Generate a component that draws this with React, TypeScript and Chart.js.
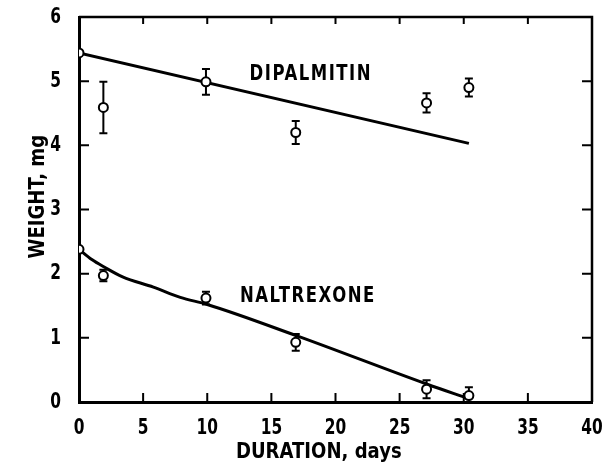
import React, { useEffect, useRef } from "react";
import { Chart, registerables } from "chart.js";

Chart.register(...registerables);

// ---- data ----
const dipDays = [0, 1.9, 9.9, 16.9, 27.1, 30.4];
const dipWeight = [5.44, 4.59, 4.99, 4.2, 4.66, 4.9];
const dipErr = [0, 0.4, 0.2, 0.18, 0.15, 0.14];

const dipFitDays = [0, 30.4];
const dipFitWeight = [5.44, 4.03];

const nalDays = [0, 1.9, 9.9, 16.9, 27.1, 30.4];
const nalWeight = [2.38, 1.97, 1.62, 0.93, 0.2, 0.1];
const nalErr = [0, 0.09, 0.1, 0.13, 0.14, 0.13];

const nalFitDays = [0, 1, 2, 3.4, 5.8, 7.9, 10, 17, 27.1, 30.4];
const nalFitWeight = [2.38, 2.22, 2.1, 1.95, 1.79, 1.63, 1.52, 1.03, 0.28, 0.05];

const xTicks = [0, 5, 10, 15, 20, 25, 30, 35, 40];
const yTicks = [0, 1, 2, 3, 4, 5, 6];

const seriesLabels = ["DIPALMITIN", "NALTREXONE"];
const xTitle = "DURATION, days";
const yTitle = "WEIGHT, mg";

const FONT = '"DejaVu Sans", sans-serif';

const pts = (xs: number[], ys: number[]) => xs.map((x, i) => ({ x, y: ys[i] }));

// draws horizontally condensed text (the reference uses a narrow typeface)
function condText(
  ctx: CanvasRenderingContext2D,
  text: string,
  x: number,
  y: number,
  align: "left" | "center" | "right",
  sx: number,
  spacing = 0,
  rotate = 0
) {
  ctx.save();
  ctx.translate(x, y);
  if (rotate) ctx.rotate(rotate);
  ctx.scale(sx, 1);
  (ctx as any).letterSpacing = spacing + "px";
  ctx.textAlign = align;
  ctx.textBaseline = "middle";
  ctx.fillText(text, 0, 0);
  ctx.restore();
}

const annotPlugin = {
  id: "annot",
  beforeDatasetsDraw(chart: any) {
    const ctx = chart.ctx;
    const xs = chart.scales.x;
    const ys = chart.scales.y;
    ctx.save();
    ctx.strokeStyle = "#000";
    ctx.lineWidth = 2;
    const drawErr = (d: number[], w: number[], e: number[]) => {
      d.forEach((x, i) => {
        if (!e[i]) return;
        const px = xs.getPixelForValue(x);
        const top = ys.getPixelForValue(w[i] + e[i]);
        const bot = ys.getPixelForValue(Math.max(0, w[i] - e[i]));
        ctx.beginPath();
        ctx.moveTo(px, top);
        ctx.lineTo(px, bot);
        ctx.moveTo(px - 4, top);
        ctx.lineTo(px + 4, top);
        ctx.moveTo(px - 4, bot);
        ctx.lineTo(px + 4, bot);
        ctx.stroke();
      });
    };
    drawErr(dipDays, dipWeight, dipErr);
    drawErr(nalDays, nalWeight, nalErr);
    ctx.restore();
  },
  afterDraw(chart: any) {
    const ctx = chart.ctx;
    const a = chart.chartArea;
    const xs = chart.scales.x;
    const ys = chart.scales.y;
    ctx.save();
    ctx.strokeStyle = "#000";
    // frame top/right
    ctx.lineWidth = 2.5;
    ctx.beginPath();
    ctx.moveTo(a.left, a.top);
    ctx.lineTo(a.right, a.top);
    ctx.lineTo(a.right, a.bottom);
    ctx.stroke();
    // inside ticks
    ctx.lineWidth = 2;
    ctx.beginPath();
    xTicks.slice(1, -1).forEach((v) => {
      const px = xs.getPixelForValue(v);
      ctx.moveTo(px, a.bottom);
      ctx.lineTo(px, a.bottom - 9);
      ctx.moveTo(px, a.top);
      ctx.lineTo(px, a.top + 7);
    });
    yTicks.slice(1, -1).forEach((v) => {
      const py = ys.getPixelForValue(v);
      ctx.moveTo(a.left, py);
      ctx.lineTo(a.left + 10, py);
      ctx.moveTo(a.right, py);
      ctx.lineTo(a.right - 10, py);
    });
    ctx.stroke();

    ctx.fillStyle = "#000";
    ctx.font = "bold 22px " + FONT;
    // tick labels from the library's scale ticks
    xs.ticks.forEach((t: any) => {
      condText(ctx, String(t.value), xs.getPixelForValue(t.value), a.bottom + 26, "center", 0.7);
    });
    ys.ticks.forEach((t: any) => {
      condText(ctx, String(t.value), a.left - 18, ys.getPixelForValue(t.value), "right", 0.7);
    });
    // series labels
    condText(ctx, seriesLabels[0], xs.getPixelForValue(13.3), ys.getPixelForValue(5.1), "left", 0.75, 2);
    condText(ctx, seriesLabels[1], xs.getPixelForValue(12.55), ys.getPixelForValue(1.64), "left", 0.75, 2);
    // axis titles
    condText(ctx, xTitle, xs.getPixelForValue(18.7), a.bottom + 50, "center", 0.82);
    condText(ctx, yTitle, 38, ys.getPixelForValue(3.2), "center", 0.82, 0, -Math.PI / 2);
    ctx.restore();
  },
};

export default function App() {
  const ref = useRef<HTMLCanvasElement>(null);
  useEffect(() => {
    if (!ref.current) return;
    const pointStyle = {
      showLine: false,
      pointRadius: 4.5,
      pointBorderWidth: 2,
      pointBackgroundColor: "#fff",
      pointBorderColor: "#000",
    };
    const lineStyle = {
      showLine: true,
      pointRadius: 0,
      borderColor: "#000",
      borderWidth: 3,
      fill: false,
    };
    const zeroPad = (s: any) => {
      s.paddingTop = 0;
      s.paddingBottom = 0;
      s.paddingLeft = 0;
      s.paddingRight = 0;
    };
    const chart = new Chart(ref.current, {
      type: "scatter",
      data: {
        datasets: [
          { label: "dip", data: pts(dipDays, dipWeight), ...pointStyle },
          { label: "nal", data: pts(nalDays, nalWeight), ...pointStyle },
          { label: "dipFit", data: pts(dipFitDays, dipFitWeight), ...lineStyle },
          { label: "nalFit", data: pts(nalFitDays, nalFitWeight), ...lineStyle, cubicInterpolationMode: "monotone" },
        ],
      } as any,
      options: {
        responsive: false,
        animation: false,
        layout: { padding: { top: 17, right: 10, left: 0, bottom: 0 } },
        plugins: { legend: { display: false }, tooltip: { enabled: false } },
        scales: {
          x: {
            type: "linear",
            min: 0,
            max: 40,
            afterBuildTicks: (s: any) => { s.ticks = xTicks.map((v) => ({ value: v })); },
            afterFit: (s: any) => { s.height = 73; zeroPad(s); },
            grid: { display: true, drawOnChartArea: false, drawTicks: false, color: "rgba(0,0,0,0)" },
            border: { display: true, color: "#000", width: 3 },
            ticks: { display: false },
          },
          y: {
            type: "linear",
            min: 0,
            max: 6,
            afterBuildTicks: (s: any) => { s.ticks = yTicks.map((v) => ({ value: v })); },
            afterFit: (s: any) => { s.width = 79; zeroPad(s); },
            grid: { display: true, drawOnChartArea: false, drawTicks: false, color: "rgba(0,0,0,0)" },
            border: { display: true, color: "#000", width: 3 },
            ticks: { display: false },
          },
        },
      } as any,
      plugins: [annotPlugin],
    });
    return () => chart.destroy();
  }, []);
  return (
    <div style={{ position: "absolute", left: 0, top: 0, width: 602, height: 475, background: "#fff" }}>
      <canvas ref={ref} width={602} height={475} style={{ display: "block" }} />
    </div>
  );
}
